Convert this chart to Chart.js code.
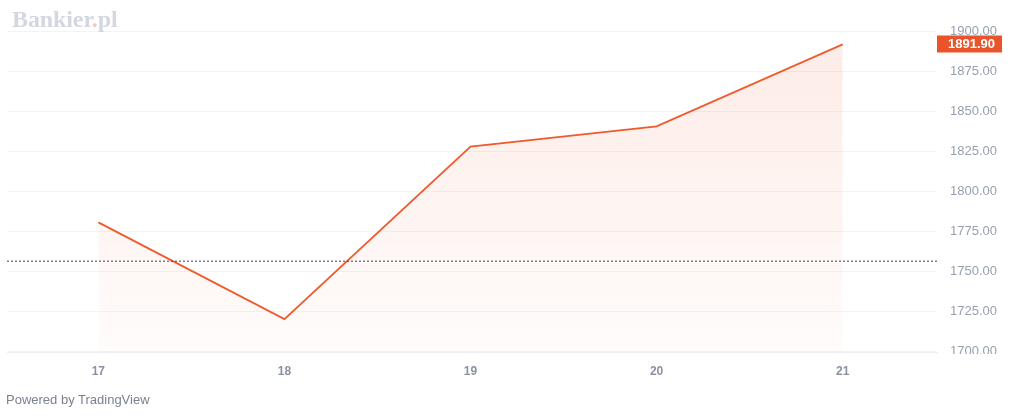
<!DOCTYPE html>
<html>
<head>
<meta charset="utf-8">
<script src="https://cdn.jsdelivr.net/npm/chart.js@4/dist/chart.umd.min.js"></script>
<style>
  html, body { margin: 0; padding: 0; background: #ffffff; }
  #wrap { position: relative; width: 1024px; height: 418px; overflow: hidden; }
  #c { position: absolute; left: 0; top: 0; }
  #logo { position: absolute; left: 12px; top: 6px; font-family: "Liberation Serif", "DejaVu Serif", serif; font-weight: bold; font-size: 24px; color: #d3d8e0; letter-spacing: -0.1px; }
  #logo span { color: #f6c6b2; }
  #powered { position: absolute; left: 6px; top: 392px; font-family: "Liberation Sans", Arial, sans-serif; font-size: 13px; color: #7a8191; }
</style>
</head>
<body>
<div id="wrap">
  <canvas id="c" width="1024" height="418"></canvas>
  <div id="logo">Bankier<span>.</span>pl</div>
  <div id="powered">Powered by TradingView</div>
</div>
<script>
const days = [17, 18, 19, 20, 21];
const prices = [1780.5, 1720.0, 1828.0, 1840.6, 1891.90];
const referenceLevel = 1756.25;
const yTicks = [1700, 1725, 1750, 1775, 1800, 1825, 1850, 1875, 1900];
const lastLabel = '1891.90';

const lineColor = '#ef5a2d';

const lastPricePlugin = {
  id: 'lastPrice',
  afterDraw(chart) {
    const ctx = chart.ctx;
    const ys = chart.scales.y;
    const ca = chart.chartArea;
    ctx.save();
    // price scale is clipped at the bottom of the pane
    ctx.fillStyle = '#ffffff';
    ctx.fillRect(ca.right, ca.bottom + 2, chart.width - ca.right, 14);
    const v = prices[prices.length - 1];
    const py = ys.getPixelForValue(v);
    const x0 = ca.right;
    ctx.fillStyle = '#e9542a';
    ctx.fillRect(x0, Math.round(py) - 8.5, 65, 17);
    ctx.fillStyle = '#ffffff';
    ctx.font = 'bold 13px "Liberation Sans", Arial, sans-serif';
    ctx.textBaseline = 'middle';
    ctx.textAlign = 'left';
    ctx.fillText(lastLabel, x0 + 11, Math.round(py) + 0.5);
    ctx.restore();
  }
};

new Chart(document.getElementById('c'), {
  type: 'line',
  data: {
    datasets: [
      {
        data: days.map((d, i) => ({ x: d, y: prices[i] })),
        borderColor: lineColor,
        borderWidth: 1.8,
        pointRadius: 0,
        tension: 0,
        fill: 'start',
        backgroundColor: (ctx) => {
          const ca = ctx.chart.chartArea;
          if (!ca) return 'rgba(239,90,45,0.08)';
          const g = ctx.chart.ctx.createLinearGradient(0, ca.top, 0, ca.bottom);
          g.addColorStop(0, 'rgba(239,90,45,0.13)');
          g.addColorStop(1, 'rgba(239,90,45,0.02)');
          return g;
        },
        order: 1
      },
      {
        data: [{ x: 16.509, y: referenceLevel }, { x: 21.507, y: referenceLevel }],
        borderColor: '#3c4150',
        borderWidth: 1,
        borderDash: [2, 2],
        pointRadius: 0,
        fill: false,
        order: 0
      }
    ]
  },
  options: {
    responsive: false,
    animation: false,
    devicePixelRatio: 1,
    layout: { padding: { left: 7, top: 0, right: 0, bottom: 0 } },
    plugins: { legend: { display: false }, tooltip: { enabled: false } },
    scales: {
      x: {
        type: 'linear',
        min: 16.509,
        max: 21.507,
        afterBuildTicks: (s) => { s.ticks = days.map(d => ({ value: d })); },
        afterFit: (s) => { s.height = 66; s.paddingLeft = 0; s.paddingRight = 0; s.paddingTop = 0; s.paddingBottom = 0; },
        grid: { display: false, drawTicks: false },
        border: { display: true, color: '#eceef2', width: 1 },
        ticks: {
          padding: 12,
          color: '#8a91a1',
          font: { family: '"Liberation Sans", Arial, sans-serif', size: 12, weight: 'bold' },
          callback: (v) => String(v)
        }
      },
      y: {
        position: 'right',
        min: 1699.4,
        max: 1919.7,
        afterBuildTicks: (s) => { s.ticks = yTicks.map(v => ({ value: v })); },
        afterFit: (s) => { s.width = 87; s.paddingTop = 0; s.paddingBottom = 0; s.paddingLeft = 0; s.paddingRight = 0; },
        grid: { color: '#f2f3f6', drawTicks: false },
        border: { display: false },
        ticks: {
          padding: 13,
          color: '#98a0b1',
          font: { family: '"Liberation Sans", Arial, sans-serif', size: 13 },
          callback: (v) => Number(v).toFixed(2)
        }
      }
    }
  },
  plugins: [lastPricePlugin]
});
</script>
</body>
</html>
